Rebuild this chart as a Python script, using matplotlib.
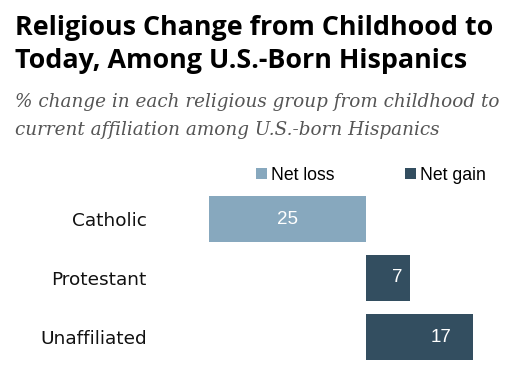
import matplotlib
matplotlib.use("Agg")
import matplotlib.pyplot as plt
from matplotlib.patches import Patch

categories = ["Catholic", "Protestant", "Unaffiliated"]
values = [-25, 7, 17]
value_labels = ["25", "7", "17"]
legend_labels = ["Net loss", "Net gain"]
title_lines = ["Religious Change from Childhood to", "Today, Among U.S.-Born Hispanics"]
subtitle_lines = ["% change in each religious group from childhood to",
                  "current affiliation among U.S.-born Hispanics"]

loss_color = "#87A8BE"
gain_color = "#334E60"

W, H = 516, 376
fig = plt.figure(figsize=(W / 100, H / 100), dpi=100)
fig.patch.set_facecolor("white")

def fx(px):
    return px / W

def fy(py):
    return 1 - py / H

# axes: x=-25 at px 209, x=17 at px 473; y center 0 at 219, 2 at 337
ax = fig.add_axes([fx(209), fy(366.5), fx(473) - fx(209), fy(189.5) - fy(366.5)])
ax.set_xlim(-25, 17)
ax.set_ylim(2.5, -0.5)

colors = [loss_color if v < 0 else gain_color for v in values]
ax.barh(range(len(categories)), values, height=0.78, color=colors, edgecolor="none")

for i, (v, lab) in enumerate(zip(values, value_labels)):
    xpos = v / 2 if v < 0 else v * 0.7
    ax.text(xpos, i, lab, ha="center", va="center", color="white",
            fontsize=13.5, family="Liberation Sans")

ax.set_yticks(range(len(categories)))
ax.set_yticklabels(categories, fontsize=13.3, family="DejaVu Sans", color="#111111")
ax.tick_params(axis="y", length=0, pad=45)
ax.set_xticks([])
for s in ax.spines.values():
    s.set_visible(False)

handles = [Patch(facecolor=loss_color), Patch(facecolor=gain_color)]
fig.legend(handles, legend_labels, loc="center left",
           bbox_to_anchor=(fx(256), fy(175)), ncol=2, frameon=False,
           prop={"family": "Liberation Sans", "size": 12.7},
           handlelength=0.6, handleheight=0.6, handletextpad=0.25,
           columnspacing=4.0, borderaxespad=0, borderpad=0)

fig.text(fx(15), fy(35), title_lines[0], ha="left", va="baseline", fontsize=19.4,
         fontweight="bold", family="Open Sans", color="black")
fig.text(fx(15), fy(68), title_lines[1], ha="left", va="baseline", fontsize=19.4,
         fontweight="bold", family="Open Sans", color="black")
fig.text(fx(15), fy(107), subtitle_lines[0], ha="left", va="baseline", fontsize=13.2,
         style="italic", family="DejaVu Serif", color="#555555")
fig.text(fx(15), fy(135), subtitle_lines[1], ha="left", va="baseline", fontsize=13.2,
         style="italic", family="DejaVu Serif", color="#555555")

fig.savefig("out.png", dpi=100, facecolor="white")
